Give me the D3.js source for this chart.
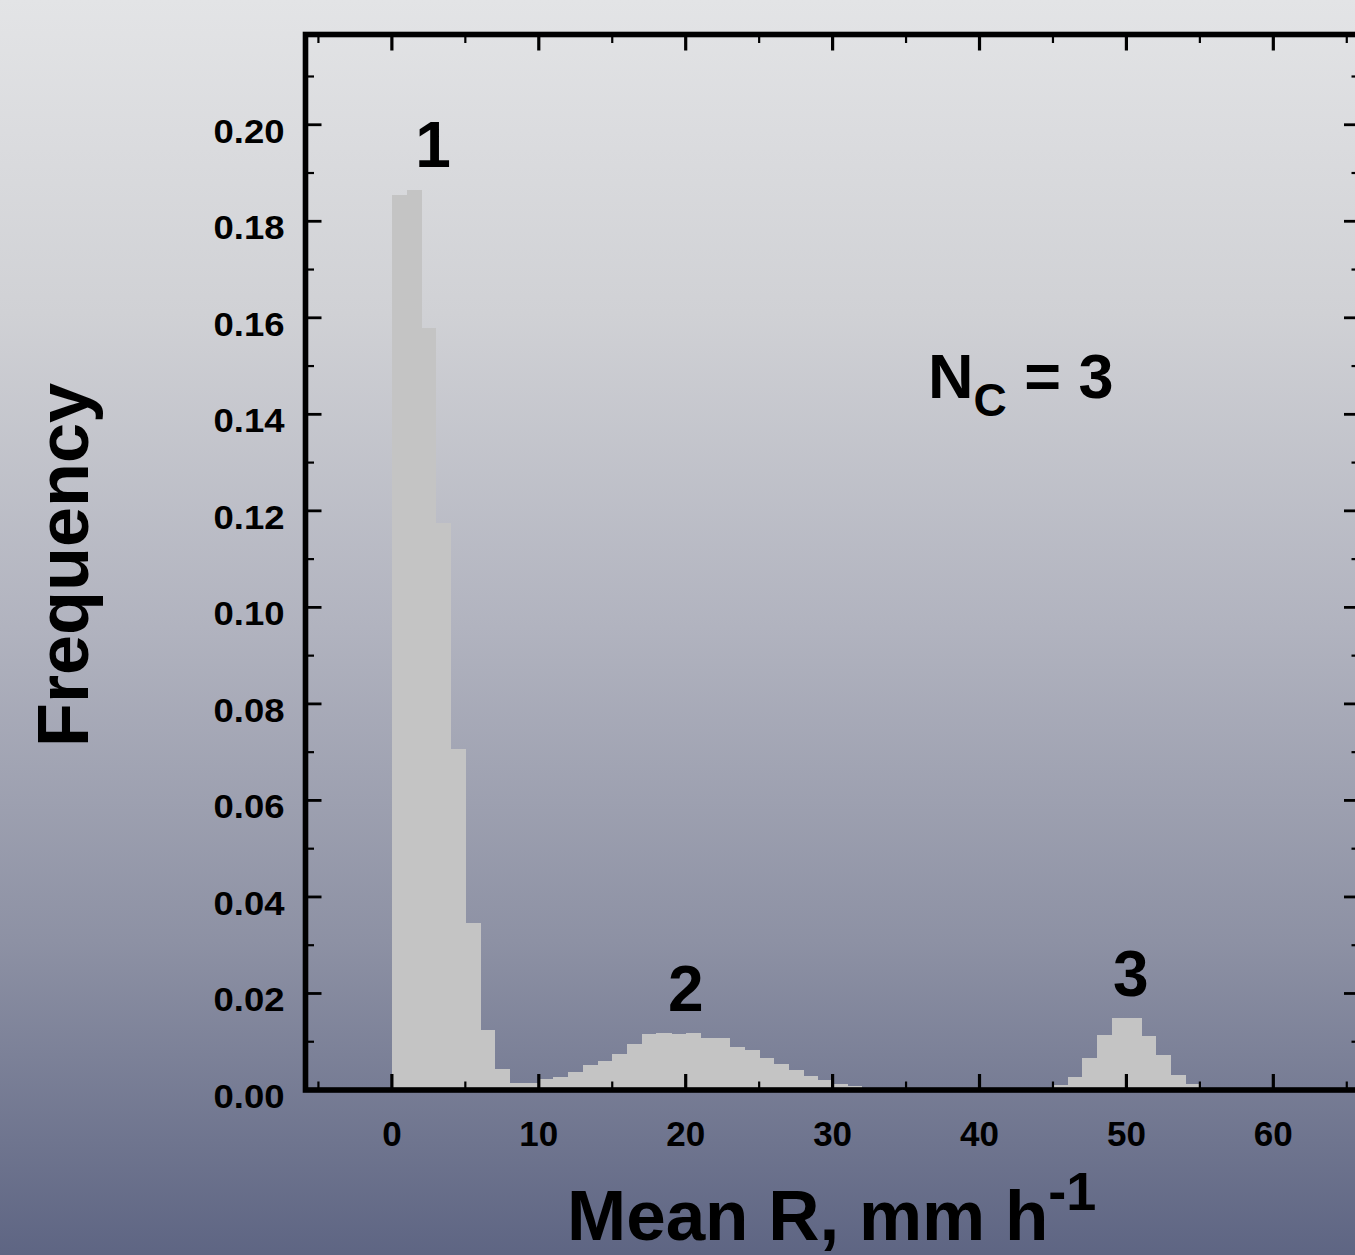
<!DOCTYPE html>
<html>
<head>
<meta charset="utf-8">
<script src="https://cdn.jsdelivr.net/npm/d3@7"></script>
<style>
body { margin: 0; }
text { font-family: Arial, "Liberation Sans", Helvetica, sans-serif; font-weight: bold; fill: #000; }
</style>
</head>
<body>
<svg></svg>
<script>
// histogram bins (left edge, mm/h) and their frequencies
var binStart = [0, 1, 2, 3, 4, 5, 6, 7, 8, 9,
	10, 11, 12, 13, 14, 15, 16, 17, 18, 19,
	20, 21, 22, 23, 24, 25, 26, 27, 28, 29,
	30, 31,
	45, 46, 47, 48, 49, 50, 51, 52, 53, 54];
var binFreq = [0.1855, 0.1865, 0.1579, 0.1175, 0.0707, 0.0346, 0.0124, 0.0044, 0.0015, 0.0015,
	0.0023, 0.0027, 0.0037, 0.0052, 0.0060, 0.0075, 0.0095, 0.0116, 0.0118, 0.0116,
	0.0118, 0.0108, 0.0108, 0.0089, 0.0083, 0.0066, 0.0054, 0.0041, 0.0029, 0.0021,
	0.0012, 0.0008,
	0.0010, 0.0027, 0.0066, 0.0114, 0.0149, 0.0149, 0.0112, 0.0073, 0.0031, 0.0012];

var xMajor = [0, 10, 20, 30, 40, 50, 60];
var xMinor = [-5, 5, 15, 25, 35, 45, 55, 65];
var yMajor = [0, 0.02, 0.04, 0.06, 0.08, 0.10, 0.12, 0.14, 0.16, 0.18, 0.20];
var yMinor = [0.01, 0.03, 0.05, 0.07, 0.09, 0.11, 0.13, 0.15, 0.17, 0.19, 0.21];

// cluster labels, placed in data coordinates
var peakName = ["1", "2", "3"];
var peakX = [2.8, 20.0, 50.3];
var peakY = [0.1913, 0.0164, 0.0194];

var width = 1355;
var height = 1255;
var frameW = 5.6;
var majorLen = 16;
var minorLen = 8.5;
var svg, x, y;

function background(){
	var grad = svg.append("defs")
	.append("linearGradient")
	.attr("id", "bg")
	.attr("x1", 0).attr("y1", 0)
	.attr("x2", 0).attr("y2", 1);

	var stops = [[0, "#e3e4e6"], [0.25, "#d0d1d5"], [0.5, "#b1b3bf"], [0.75, "#8d91a4"], [1, "#5e6583"]];
	grad.selectAll("stop")
	.data(stops)
	.enter()
	.append("stop")
	.attr("offset", d => d[0])
	.attr("stop-color", d => d[1]);

	svg.append("rect")
	.attr("width", width)
	.attr("height", height)
	.attr("fill", "url(#bg)");
}

function bars(){
	svg.selectAll("rect.bar")
	.data(binStart)
	.enter()
	.append("rect")
	.classed("bar", true)
	.attr("x", d => x(d))
	.attr("width", d => x(d + 1) - x(d) + 0.5)
	.attr("y", (d, i) => y(binFreq[i]))
	.attr("height", (d, i) => y(0) - y(binFreq[i]))
	.attr("fill", "#c4c4c4")
	.attr("shape-rendering", "crispEdges");
}

function ticks(){
	var x0 = x.range()[0], x1 = x.range()[1];
	var y0 = y.range()[0], y1 = y.range()[1];
	var g = svg.append("g").attr("stroke", "#000");

	// bottom and top
	g.selectAll("line.xmaj")
	.data(xMajor.concat(xMajor))
	.enter()
	.append("line")
	.attr("x1", d => x(d)).attr("x2", d => x(d))
	.attr("y1", (d, i) => i < xMajor.length ? y0 : y1)
	.attr("y2", (d, i) => i < xMajor.length ? y0 - majorLen : y1 + majorLen)
	.attr("stroke-width", 3.2);

	g.selectAll("line.xmin")
	.data(xMinor.concat(xMinor))
	.enter()
	.append("line")
	.attr("x1", d => x(d)).attr("x2", d => x(d))
	.attr("y1", (d, i) => i < xMinor.length ? y0 : y1)
	.attr("y2", (d, i) => i < xMinor.length ? y0 - minorLen : y1 + minorLen)
	.attr("stroke-width", 2.2);

	// left and right
	g.selectAll("line.ymaj")
	.data(yMajor.concat(yMajor))
	.enter()
	.append("line")
	.attr("y1", d => y(d)).attr("y2", d => y(d))
	.attr("x1", (d, i) => i < yMajor.length ? x0 : x1)
	.attr("x2", (d, i) => i < yMajor.length ? x0 + majorLen : x1 - majorLen)
	.attr("stroke-width", 2.8);

	g.selectAll("line.ymin")
	.data(yMinor.concat(yMinor))
	.enter()
	.append("line")
	.attr("y1", d => y(d)).attr("y2", d => y(d))
	.attr("x1", (d, i) => i < yMinor.length ? x0 : x1)
	.attr("x2", (d, i) => i < yMinor.length ? x0 + minorLen : x1 - minorLen)
	.attr("stroke-width", 2.2);

	svg.append("rect")
	.attr("x", x0).attr("y", y1)
	.attr("width", x1 - x0).attr("height", y0 - y1)
	.attr("fill", "none")
	.attr("stroke", "#000")
	.attr("stroke-width", frameW);
}

function labels(){
	// tick numbers are a little wider than plain Arial in the original
	svg.selectAll("text.ytick")
	.data(yMajor)
	.enter()
	.append("text")
	.classed("ytick", true)
	.attr("x", x.range()[0] - 21)
	.attr("y", d => y(d) + 18)
	.attr("text-anchor", "end")
	.attr("textLength", 71)
	.attr("lengthAdjust", "spacingAndGlyphs")
	.style("font-size", "33px")
	.text(d => d3.format(".2f")(d));

	svg.selectAll("text.xtick")
	.data(xMajor)
	.enter()
	.append("text")
	.classed("xtick", true)
	.attr("x", d => x(d))
	.attr("y", y(0) + 56)
	.attr("text-anchor", "middle")
	.style("font-size", "35px")
	.text(d => d);

	svg.selectAll("text.peak")
	.data(peakName)
	.enter()
	.append("text")
	.classed("peak", true)
	.attr("x", (d, i) => x(peakX[i]))
	.attr("y", (d, i) => y(peakY[i]))
	.attr("text-anchor", "middle")
	.style("font-size", "64px")
	.text(d => d);

	var nc = svg.append("text")
	.attr("x", x(36.5))
	.attr("y", y(0.1434))
	.style("font-size", "63px");
	nc.append("tspan").text("N");
	nc.append("tspan").attr("dy", 18).style("font-size", "46px").text("C");
	nc.append("tspan").attr("dy", -18).text(" = 3");

	var xl = svg.append("text")
	.attr("x", 567)
	.attr("y", 1240)
	.style("font-size", "71px");
	xl.append("tspan").text("Mean R, mm h");
	xl.append("tspan").attr("dy", -30).style("font-size", "54px").text("-1");

	svg.append("text")
	.attr("transform", "translate(88,565) rotate(-90)")
	.attr("text-anchor", "middle")
	.style("font-size", "72px")
	.text("Frequency");
}

function init(){
	svg = d3.select("svg").attr("width", width).attr("height", height);
	x = d3.scaleLinear().domain([-5.88, 65.9]).range([305.5, 1360]);
	y = d3.scaleLinear().domain([0, 0.2187]).range([1090, 34.5]);
	background();
	bars();
	ticks();
	labels();
}

init();
</script>
</body>
</html>
